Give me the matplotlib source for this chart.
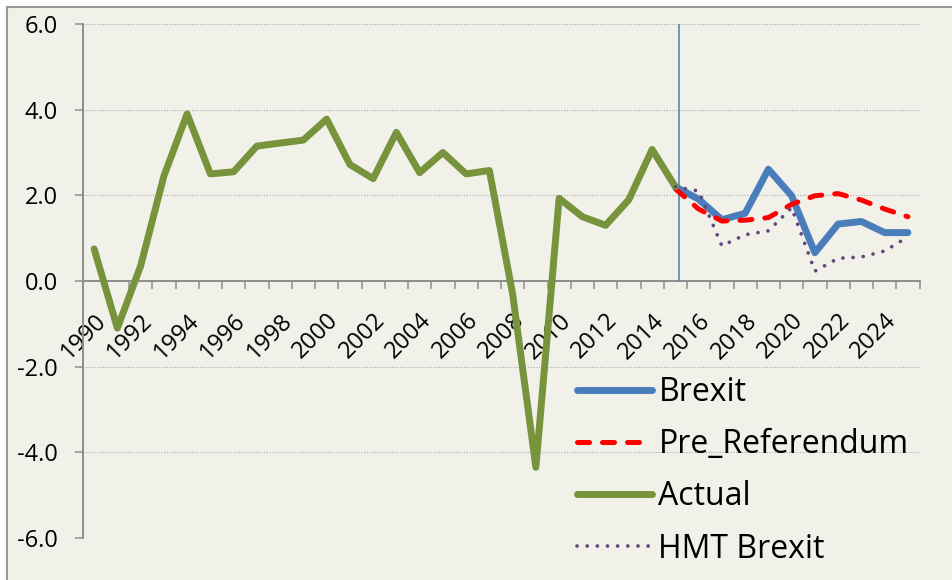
"""
UK GDP growth: actual outturn and post-referendum forecast paths.
"""

import numpy as np
import matplotlib.pyplot as plt
import matplotlib.transforms as mtransforms
from matplotlib.patches import Rectangle

# ---- data -------------------------------------------------------------
actual_years = list(range(1990, 2016))
actual = [0.75, -1.1, 0.35, 2.45, 3.9, 2.5, 2.55, 3.15, 3.22, 3.29,
          3.78, 2.72, 2.39, 3.47, 2.53, 3.0, 2.5, 2.58, -0.3, -4.35,
          1.93, 1.5, 1.3, 1.9, 3.07, 2.2]

forecast_years = list(range(2015, 2026))
brexit = [2.2, 1.91, 1.43, 1.58, 2.61, 1.99, 0.66, 1.33, 1.39, 1.13, 1.13]
pre_referendum = [2.15, 1.68, 1.40, 1.42, 1.48, 1.79, 1.99, 2.04, 1.89, 1.68, 1.5]
hmt_brexit = [2.2, 2.1, 0.82, 1.08, 1.17, 1.71, 0.23, 0.53, 0.56, 0.70, 1.03]

referendum_marker = 2015.15
tick_years = list(range(1990, 2025, 2))
y_ticks = [-6, -4, -2, 0, 2, 4, 6]

BG = "#F2F1E9"
GREY = "#8E8E8E"


def main():
    plt.rcParams["font.family"] = ["Open Sans", "DejaVu Sans"]

    fig = plt.figure(figsize=(9.52, 5.8), dpi=100, facecolor="white")
    # chart area box (Excel style), left/top border only visible
    fig.patches.append(Rectangle((7 / 952, -0.1), 1.2, 1.1 - 7 / 580,
                                 transform=fig.transFigure, facecolor=BG,
                                 edgecolor="#9A9A9A", linewidth=1.5, zorder=-5))

    ax = fig.add_axes([82.5 / 952, 1 - 538 / 580, (919.5 - 82.5) / 952, (538 - 24) / 580])
    ax.set_facecolor("none")

    ax.plot(forecast_years, brexit, color="#4A7EBB", lw=5.0,
            solid_capstyle="round", solid_joinstyle="round", label="Brexit", zorder=3)
    ax.plot(forecast_years, pre_referendum, color="#FF0000", lw=3.6,
            linestyle=(0, (2.4, 2.6)), dash_capstyle="round",
            label="Pre_Referendum", zorder=4)
    ax.plot(actual_years, actual, color="#77933C", lw=5.0,
            solid_capstyle="round", solid_joinstyle="round", label="Actual", zorder=5)
    ax.plot(forecast_years, hmt_brexit, color="#604A7B", lw=2.7,
            linestyle=(0, (0.01, 2.7)), dash_capstyle="round",
            label="HMT Brexit", zorder=6)

    ax.vlines(referendum_marker, 0, 6, color="#4A7EBB", lw=1.1, zorder=2)

    ax.set_xlim(1989.5, 2025.5)
    ax.set_ylim(-6, 6)

    # axes / spines
    for side in ["top", "right"]:
        ax.spines[side].set_visible(False)
    ax.spines["left"].set_color(GREY)
    ax.spines["left"].set_linewidth(1.4)
    ax.spines["bottom"].set_color(GREY)
    ax.spines["bottom"].set_linewidth(1.4)
    ax.spines["bottom"].set_position(("data", 0))
    ax.spines["bottom"].set_zorder(1)

    ax.set_yticks(y_ticks)
    ax.set_yticklabels([f"{v:.1f}" for v in y_ticks])
    ax.tick_params(axis="y", length=5.8, width=1.1, color=GREY, pad=12,
                   labelsize=17)
    ax.yaxis.grid(True, linestyle=(0, (1, 1.5)), color="#A8A8A8", lw=0.8)
    ax.set_axisbelow(True)

    ax.set_xticks(tick_years)
    ax.set_xticks(np.arange(1989.5, 2026, 1.0), minor=True)
    ax.set_xticklabels([str(y) for y in tick_years], rotation=45,
                       rotation_mode="anchor", ha="right", va="center")
    ax.tick_params(axis="x", which="major", length=0, pad=26, labelsize=17)
    ax.tick_params(axis="x", which="minor", length=5.8, width=1.1, color=GREY)
    shift = mtransforms.ScaledTranslation(6 / 72, 0, fig.dpi_scale_trans)
    for lab in ax.get_xticklabels():
        lab.set_transform(lab.get_transform() + shift)

    ax.legend(loc="upper left", bbox_to_anchor=(577 / 952, 1 - 376 / 580),
              bbox_transform=fig.transFigure, frameon=False, fontsize=23,
              handlelength=2.35, handletextpad=0.2, labelspacing=0.6,
              borderpad=0, borderaxespad=0)

    plt.savefig("out.png", dpi=100, facecolor=fig.get_facecolor())
    plt.close()


if __name__ == "__main__":
    main()
